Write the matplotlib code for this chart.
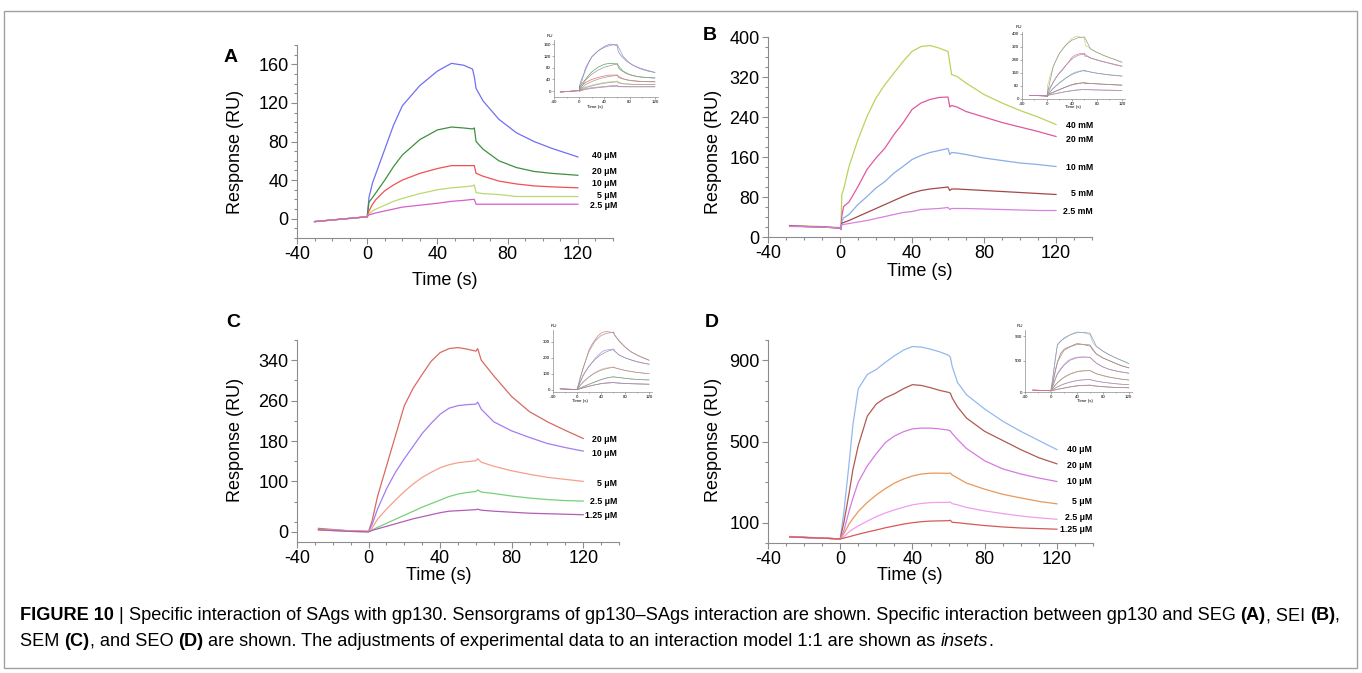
import matplotlib
matplotlib.use('Agg')
import matplotlib.pyplot as plt
from matplotlib.patches import Rectangle
from matplotlib.ticker import MultipleLocator, FixedLocator
from matplotlib import font_manager

W, H = 1362, 673

# ---- panel A (SEG) ----
t_a = [-30, 0, 1, 3, 5, 10, 15, 20, 30, 40, 48, 55, 60, 61, 62, 66, 75, 85, 95, 105, 120]
a_40 = [-3, 2, 22, 37, 47, 72, 97, 117, 138, 153, 161, 159, 155, 147, 135, 122, 103, 89, 80, 73, 64]
a_20 = [-3, 2, 17, 22, 27, 40, 54, 66, 82, 92, 95, 94, 93, 94, 80, 72, 60, 53, 49, 47, 45]
a_10 = [-3, 2, 8, 15, 20, 29, 35, 40, 47, 52, 55, 55, 55, 55, 47, 44, 39, 36, 34, 33, 32]
a_5 = [-3, 2, 5, 8, 10, 14, 18, 21, 26, 30, 32, 33, 34, 35, 27, 26, 25, 23, 23, 23, 23]
a_2_5 = [-3, 2, 4, 5, 6, 8, 10, 12, 14, 16, 18, 19, 20, 20, 15, 15, 15, 15, 15, 15, 15]
labels_a = ['40 μM', '20 μM', '10 μM', '5 μM', '2.5 μM']

# ---- panel B (SEI) ----
t_b = [-28, -10, 0, 0.5, 1, 2, 5, 10, 15, 20, 25, 30, 35, 40, 45, 50, 55, 60, 61, 62, 65, 70, 80, 90, 100, 110, 120]
b_40 = [23, 21, 19, 15, 85, 95, 141, 195, 241, 278, 305, 328, 351, 371, 381, 383, 378, 371, 348, 325, 321, 308, 285, 268, 253, 240, 225]
b_20 = [22, 20, 18, 15, 41, 61, 70, 101, 135, 158, 178, 205, 228, 255, 268, 275, 279, 280, 260, 263, 260, 251, 240, 229, 220, 211, 201]
b_10 = [22, 20, 18, 15, 31, 38, 45, 65, 81, 98, 111, 128, 141, 155, 163, 169, 173, 177, 165, 169, 168, 165, 158, 153, 148, 145, 141]
b_5 = [22, 20, 18, 15, 28, 29, 33, 41, 49, 57, 65, 73, 81, 88, 93, 96, 98, 100, 93, 96, 96, 95, 93, 91, 89, 87, 85]
b_2_5 = [21, 20, 18, 15, 25, 25, 27, 30, 33, 37, 41, 45, 49, 51, 55, 56, 57, 59, 55, 57, 57, 57, 56, 55, 54, 53, 53]
labels_b = ['40 mM', '20 mM', '10 mM', '5 mM', '2.5 mM']

# ---- panel C (SEM) ----
t_c = [-28, -10, 0, 2, 5, 10, 15, 20, 25, 30, 35, 40, 45, 50, 55, 60, 61, 63, 70, 80, 90, 100, 110, 120]
c_20 = [7, 2, 1, 22, 70, 130, 190, 250, 285, 312, 338, 355, 363, 365, 362, 358, 363, 340, 309, 268, 238, 218, 201, 185]
c_10 = [5, 2, 1, 15, 45, 85, 118, 145, 170, 195, 215, 233, 245, 250, 252, 253, 257, 243, 218, 200, 187, 175, 167, 160]
c_5 = [5, 2, 1, 8, 25, 45, 63, 80, 95, 108, 118, 127, 133, 137, 139, 141, 145, 138, 130, 121, 114, 108, 104, 100]
c_2_5 = [4, 1, 0, 4, 9, 17, 25, 33, 41, 49, 56, 63, 70, 75, 78, 80, 83, 79, 76, 71, 67, 64, 62, 61]
c_1_25 = [4, 1, 0, 3, 6, 11, 16, 21, 26, 30, 34, 38, 41, 42, 43, 44, 45, 43, 41, 39, 37, 36, 35, 34]
labels_c = ['20 μM', '10 μM', '5 μM', '2.5 μM', '1.25 μM']

# ---- panel D (SEO) ----
t_d = [-28, -10, 0, 2, 5, 7, 10, 15, 20, 25, 30, 35, 40, 45, 50, 55, 60, 61, 62, 65, 70, 80, 90, 100, 110, 120]
d_40 = [32, 25, 20, 150, 400, 580, 760, 830, 855, 890, 922, 950, 968, 965, 955, 942, 925, 915, 870, 790, 730, 660, 600, 550, 505, 460]
d_20 = [30, 24, 20, 100, 250, 360, 480, 625, 685, 715, 735, 760, 780, 776, 765, 752, 742, 738, 715, 670, 615, 550, 505, 460, 420, 390]
d_10 = [30, 24, 20, 60, 160, 220, 300, 380, 440, 495, 527, 548, 562, 566, 566, 562, 556, 552, 540, 510, 465, 405, 365, 340, 320, 303]
d_5 = [30, 24, 20, 45, 95, 120, 155, 200, 237, 268, 295, 315, 330, 340, 344, 344, 343, 345, 335, 320, 295, 265, 240, 222, 205, 193]
d_2_5 = [30, 24, 20, 30, 56, 68, 84, 108, 130, 148, 163, 176, 188, 195, 199, 200, 200, 202, 194, 188, 175, 158, 145, 133, 124, 117]
d_1_25 = [30, 24, 20, 24, 31, 36, 43, 54, 64, 75, 84, 93, 100, 105, 108, 109, 110, 112, 102, 100, 95, 86, 79, 74, 71, 68]
labels_d = ['40 μM', '20 μM', '10 μM', '5 μM', '2.5 μM', '1.25 μM']

# ---- 1:1 model fits shown in the insets ----
t_fit = [0, 10, 20, 30, 40, 50, 60, 70, 80, 90, 100, 110, 120]
fit_a = [
    [0, 80, 118, 138, 150, 157, 160, 118, 96, 83, 74, 68, 64],
    [0, 38, 58, 72, 82, 88, 93, 68, 57, 51, 48, 46, 45],
    [0, 22, 33, 41, 47, 51, 54, 42, 36, 34, 33, 32, 32],
    [0, 12, 18, 23, 27, 30, 32, 25, 24, 23, 23, 23, 23],
    [0, 6, 9, 12, 14, 16, 17, 15, 15, 15, 15, 15, 15],
]
fit_b = [
    [20, 200, 280, 330, 360, 375, 380, 305, 285, 268, 253, 240, 225],
    [20, 105, 160, 205, 245, 268, 275, 250, 238, 228, 218, 208, 200],
    [20, 65, 100, 128, 150, 165, 175, 165, 158, 152, 147, 143, 140],
    [20, 42, 58, 73, 86, 94, 100, 95, 92, 90, 88, 86, 84],
    [20, 30, 38, 45, 50, 55, 58, 56, 55, 54, 54, 53, 52],
]
fit_c = [
    [0, 135, 240, 305, 340, 355, 360, 305, 268, 238, 217, 200, 185],
    [0, 90, 148, 190, 220, 240, 252, 218, 200, 187, 176, 167, 160],
    [0, 48, 80, 104, 122, 133, 140, 130, 121, 114, 108, 104, 100],
    [0, 18, 34, 48, 62, 73, 80, 76, 71, 67, 64, 62, 61],
    [0, 11, 21, 30, 37, 41, 44, 41, 39, 37, 36, 35, 34],
]
fit_d = [
    [20, 760, 870, 925, 955, 960, 950, 740, 660, 600, 550, 505, 460],
    [20, 480, 670, 730, 765, 770, 760, 615, 550, 505, 460, 420, 390],
    [20, 290, 430, 515, 550, 562, 562, 465, 405, 365, 340, 320, 303],
    [20, 150, 235, 290, 325, 340, 345, 295, 265, 240, 222, 205, 193],
    [20, 82, 128, 160, 183, 195, 200, 175, 158, 145, 133, 124, 117],
    [20, 42, 63, 82, 97, 105, 110, 95, 86, 79, 74, 71, 68],
]

plt.rcParams['font.family'] = ['Liberation Sans', 'DejaVu Sans']
plt.rcParams['axes.unicode_minus'] = False
GREY = '#8c8c8c'

panels = [
    dict(letter='A', t=t_a, series=[a_40, a_20, a_10, a_5, a_2_5], labels=labels_a,
         colors=['#6f6ff5', '#3f8f3f', '#f25050', '#bcd870', '#d660c8'],
         box=(297, 45, 613, 238), ylim=(-20, 180), yticks=[0, 40, 80, 120, 160],
         yminor=list(range(-20, 181, 10)), letter_xy=(231, 58),
         ylab_xy=(236, 152), xlab_xy=(445, 280), lab_x=617, lab_y=[156, 171, 184, 195, 206],
         fits=fit_a, ibox=(554, 40, 658, 97), iylim=(-20, 175), iyticks=[0, 40, 80, 120, 160],
         iru=(547, 36), itime=(595, 107)),
    dict(letter='B', t=t_b, series=[b_40, b_20, b_10, b_5, b_2_5], labels=labels_b,
         colors=['#b8d45c', '#e2589e', '#88aee8', '#a44848', '#d682e0'],
         box=(768, 37, 1092, 237), ylim=(0, 400), yticks=[0, 80, 160, 240, 320, 400],
         yminor=list(range(0, 401, 20)), letter_xy=(710, 35),
         ylab_xy=(713, 152), xlab_xy=(920, 272), lab_x=1093, lab_y=[126, 139, 167, 193, 211],
         fits=fit_b, ibox=(1022, 32, 1125, 99), iylim=(0, 410), iyticks=[0, 80, 160, 240, 320, 400],
         iru=(1016, 27), itime=(1073, 107)),
    dict(letter='C', t=t_c, series=[c_20, c_10, c_5, c_2_5, c_1_25], labels=labels_c,
         colors=['#d86a62', '#a47cf0', '#f5a08c', '#78d078', '#b45cb8'],
         box=(297, 340, 619, 542), ylim=(-20, 380), yticks=[0, 100, 180, 260, 340],
         yminor=[20, 60, 140, 220, 300, 380], letter_xy=(233, 322),
         ylab_xy=(236, 440), xlab_xy=(439, 575), lab_x=617, lab_y=[440, 454, 483, 502, 516],
         fits=fit_c, ibox=(553, 330, 652, 392), iylim=(-15, 375), iyticks=[0, 100, 200, 300],
         iru=(551, 326), itime=(580, 401)),
    dict(letter='D', t=t_d, series=[d_40, d_20, d_10, d_5, d_2_5, d_1_25], labels=labels_d,
         colors=['#94b8ee', '#b05a52', '#d67ae2', '#e8985a', '#f29cf0', '#d45a5a'],
         box=(768, 340, 1093, 543), ylim=(0, 1000), yticks=[100, 500, 900],
         yminor=list(range(0, 1001, 100)), letter_xy=(712, 322),
         ylab_xy=(713, 440), xlab_xy=(910, 575), lab_x=1092, lab_y=[449, 465, 482, 502, 517, 529],
         fits=fit_d, ibox=(1025, 330, 1132, 392), iylim=(0, 1000), iyticks=[0, 500, 900],
         iru=(1017, 326), itime=(1085, 401)),
]


def px_box(l, t, r, b):
    return [l / W, 1 - b / H, (r - l) / W, (b - t) / H]


def fxy(x, y):
    return x / W, 1 - y / H


def style_axes(ax, size, length, lw, pad):
    for s in ['top', 'right']:
        ax.spines[s].set_visible(False)
    for s in ['left', 'bottom']:
        ax.spines[s].set_color(GREY)
        ax.spines[s].set_linewidth(lw)
    ax.tick_params(which='both', direction='out', color=GREY, width=lw,
                   labelcolor='black', labelsize=size, pad=pad)
    ax.tick_params(which='minor', length=length * 0.55)
    ax.tick_params(which='major', length=length)
    ax.patch.set_alpha(0)


fig = plt.figure(figsize=(W / 100, H / 100), dpi=100)

for p in panels:
    ax = fig.add_axes(px_box(*p['box']))
    for vals, col in zip(p['series'], p['colors']):
        ax.plot(p['t'], vals, color=col, lw=0.9)
    ax.set_xlim(-40, 140)
    ax.set_ylim(*p['ylim'])
    ax.set_xticks([-40, 0, 40, 80, 120])
    ax.xaxis.set_minor_locator(MultipleLocator(10))
    ax.set_yticks(p['yticks'])
    ax.yaxis.set_minor_locator(FixedLocator(p['yminor']))
    style_axes(ax, 13, 4, 0.8, 2)

    fig.text(*fxy(*p['letter_xy']), p['letter'], fontsize=14, weight='bold', ha='center', va='center')
    fig.text(*fxy(*p['ylab_xy']), 'Response (RU)', fontsize=13, rotation=90, ha='center', va='center')
    fig.text(*fxy(*p['xlab_xy']), 'Time (s)', fontsize=13, ha='center', va='center')
    for lab, y in zip(p['labels'], p['lab_y']):
        fig.text(*fxy(p['lab_x'], y), lab, fontsize=6.3, weight='bold', ha='right', va='center')

    # inset: data with fitted 1:1 model
    ins = fig.add_axes(px_box(*p['ibox']))
    for vals, col in zip(p['series'], p['colors']):
        ins.plot(p['t'], vals, color=col, lw=0.5, alpha=0.85)
    for vals in p['fits']:
        ins.plot(t_fit, vals, color='#9a9a9a', lw=0.5)
    ins.set_xlim(-40, 125)
    ins.set_ylim(*p['iylim'])
    ins.set_xticks([-40, 0, 40, 80, 120])
    ins.set_yticks(p['iyticks'])
    ins.xaxis.set_minor_locator(MultipleLocator(20))
    style_axes(ins, 3.2, 1.5, 0.5, 0.8)
    fig.text(*fxy(*p['iru']), 'RU', fontsize=3.2, ha='left', va='center')
    fig.text(*fxy(*p['itime']), 'Time (s)', fontsize=3.2, ha='center', va='center')

# caption
names = {f.name for f in font_manager.fontManager.ttflist}
cap_family = 'Liberation Sans Narrow' if 'Liberation Sans Narrow' in names else 'Liberation Sans'

line1 = [('FIGURE 10', 'bold', 'normal'), (' | ', 'normal', 'normal'),
         ('Specific interaction of SAgs with gp130. Sensorgrams of gp130–SAgs interaction are shown. '
          'Specific interaction between gp130 and SEG ', 'normal', 'normal'),
         ('(A)', 'bold', 'normal'), (', SEI ', 'normal', 'normal'), ('(B)', 'bold', 'normal'),
         (',', 'normal', 'normal')]
line2 = [('SEM ', 'normal', 'normal'), ('(C)', 'bold', 'normal'), (', and SEO ', 'normal', 'normal'),
         ('(D)', 'bold', 'normal'),
         (' are shown. The adjustments of experimental data to an interaction model 1:1 are shown as ',
          'normal', 'normal'),
         ('insets', 'normal', 'italic'), ('.', 'normal', 'normal')]

renderer = fig.canvas.get_renderer()


def advance(s, weight, style, size):
    def width(txt):
        t = fig.text(0, 0, txt, fontsize=size, weight=weight, style=style, family=cap_family)
        w = t.get_window_extent(renderer).width
        t.remove()
        return w
    return width('|' + s + '|') - width('||')


def draw_line(pieces, x0, y, size):
    x = x0
    for s, weight, style in pieces:
        fig.text(*fxy(x, y), s, fontsize=size, weight=weight, style=style,
                 family=cap_family, ha='left', va='center')
        x += advance(s, weight, style, size)


w10 = sum(advance(s, wt, st, 10) for s, wt, st in line1)
cap_size = 10 * 1326 / w10
draw_line(line1, 20, 616, cap_size)
draw_line(line2, 20, 641, cap_size)

fig.add_artist(Rectangle((4 / W, 1 - 668 / H), 1353 / W, 657 / H, transform=fig.transFigure,
                         fill=False, edgecolor='#a0a0a0', lw=1))

fig.savefig('out.png', dpi=100)
